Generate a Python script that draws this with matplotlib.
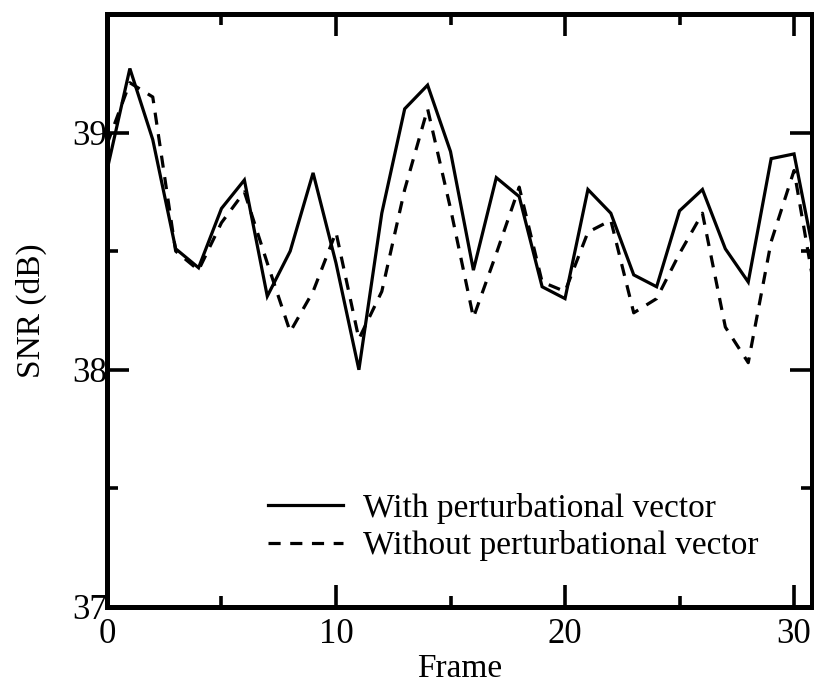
import matplotlib
matplotlib.use("Agg")
import matplotlib.pyplot as plt
from matplotlib.ticker import MultipleLocator

# SNR per frame, with and without the perturbational vector
frames = list(range(32))
snr_with = [38.84, 39.27, 38.97, 38.51, 38.43, 38.68, 38.80, 38.31, 38.50, 38.83,
            38.45, 38.00, 38.66, 39.10, 39.20, 38.92, 38.42, 38.81, 38.73, 38.35,
            38.30, 38.76, 38.66, 38.40, 38.35, 38.67, 38.76, 38.51, 38.37, 38.89,
            38.91, 38.42]
snr_without = [38.95, 39.21, 39.15, 38.50, 38.42, 38.62, 38.75, 38.45, 38.16, 38.33,
               38.58, 38.13, 38.33, 38.76, 39.10, 38.68, 38.22, 38.49, 38.77, 38.37,
               38.33, 38.58, 38.63, 38.24, 38.30, 38.49, 38.66, 38.18, 38.03, 38.54,
               38.84, 38.28]

plt.rcParams['font.family'] = ['Liberation Serif', 'DejaVu Serif']

fig = plt.figure(figsize=(8.14, 6.84), dpi=100)
ax = fig.add_axes([0.1314, 0.1126, 0.8666, 0.867])

ax.plot(frames, snr_with, color='black', lw=2.3, solid_joinstyle='miter',
        label='With perturbational vector')
ax.plot(frames, snr_without, color='black', lw=2.3, linestyle=(0, (3.8, 3.0)),
        label='Without perturbational vector')

ax.set_xlim(0, 30.8)
ax.set_ylim(37, 39.5)

ax.xaxis.set_major_locator(MultipleLocator(10))
ax.xaxis.set_minor_locator(MultipleLocator(5))
ax.yaxis.set_major_locator(MultipleLocator(1))
ax.yaxis.set_minor_locator(MultipleLocator(0.5))

ax.tick_params(which='both', direction='in', top=True, right=True,
               width=2.6, labelsize=25)
ax.tick_params(which='major', length=16)
ax.tick_params(which='minor', length=8)
ax.tick_params(axis='x', pad=8)
ax.tick_params(axis='y', pad=0)

for sp in ax.spines.values():
    sp.set_linewidth(3.6)

ax.set_xlabel('Frame', fontsize=24, labelpad=2)
ax.set_ylabel('SNR (dB)', fontsize=24, labelpad=18)

ax.legend(loc='upper left', bbox_to_anchor=(0.209, 0.215), frameon=False,
          fontsize=24, handlelength=2.25, handletextpad=0.6,
          labelspacing=0.2, borderaxespad=0)

fig.savefig('out.png', dpi=100)
